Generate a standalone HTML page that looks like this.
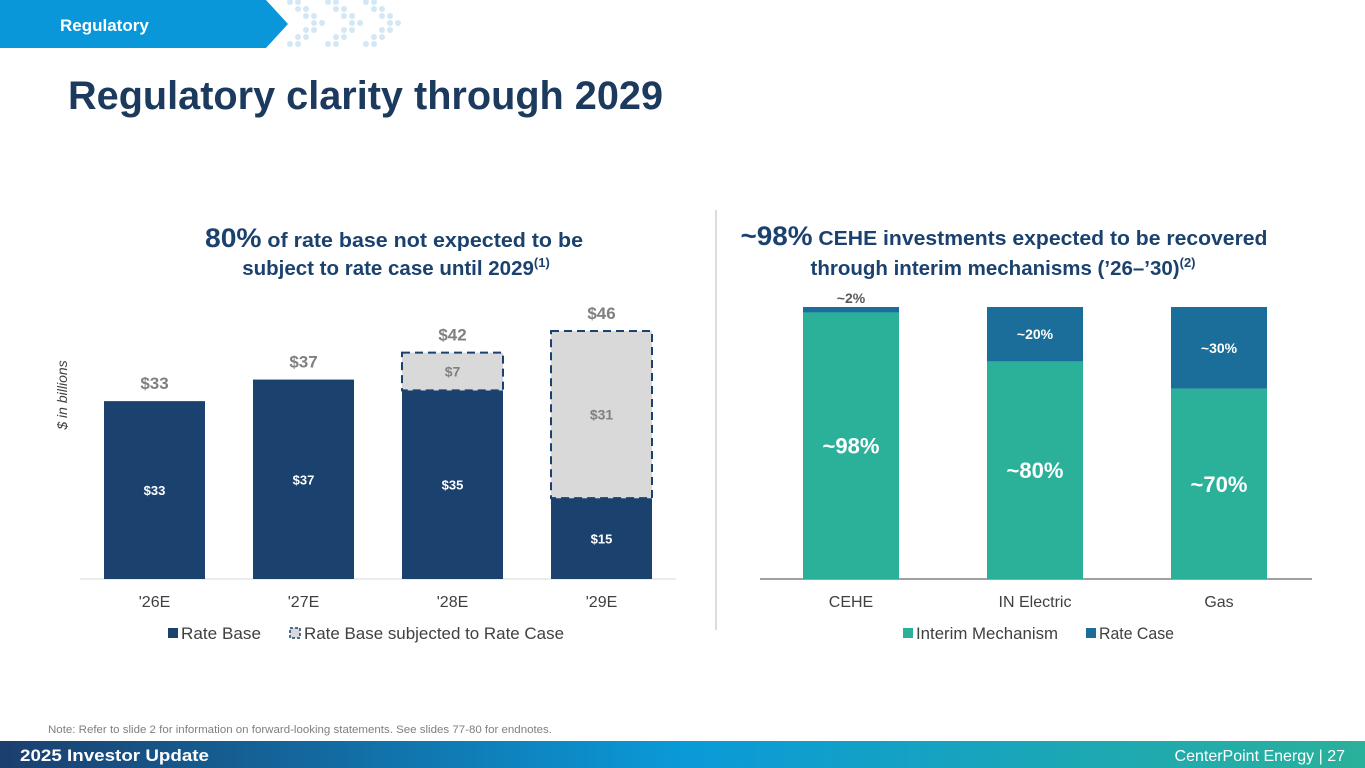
<!DOCTYPE html>
<html><head><meta charset="utf-8"><style>
html,body{margin:0;padding:0;background:#fff;width:1365px;height:768px;overflow:hidden}
svg{display:block;font-family:"Liberation Sans",Arial,sans-serif}
</style></head><body>
<svg id="s" width="1365" height="768" viewBox="0 0 1365 768">
<defs>
<linearGradient id="fg" x1="0" x2="1" y1="0" y2="0">
<stop offset="0" stop-color="#1b3f6e"/><stop offset="0.5" stop-color="#0a9ad8"/><stop offset="1" stop-color="#2ab19b"/>
</linearGradient>
</defs>
<polygon points="0,0 266,0 288,24 266,48 0,48" fill="#0a97d9"/>
<text x="60" y="31" font-size="17" font-weight="bold" fill="#fff">Regulatory</text>
<g id="dots"></g>
<text x="68" y="109" font-size="40" font-weight="bold" fill="#1b3a5e" textLength="595" lengthAdjust="spacingAndGlyphs">Regulatory clarity through 2029</text>

<text x="394" y="247" text-anchor="middle" font-weight="bold" fill="#1b426f" textLength="378" lengthAdjust="spacingAndGlyphs"><tspan font-size="27">80%</tspan><tspan font-size="20.5"> of rate base not expected to be</tspan></text>
<text x="396" y="275" text-anchor="middle" font-weight="bold" fill="#1b426f" font-size="20.5">subject to rate case until 2029<tspan font-size="13" dy="-8">(1)</tspan></text>

<text x="1004" y="245" text-anchor="middle" font-weight="bold" fill="#1b426f" textLength="527" lengthAdjust="spacingAndGlyphs"><tspan font-size="27">~98%</tspan><tspan font-size="20.5"> CEHE investments expected to be recovered</tspan></text>
<text x="1003" y="275" text-anchor="middle" font-weight="bold" fill="#1b426f" font-size="20.5">through interim mechanisms (’26–’30)<tspan font-size="13" dy="-8">(2)</tspan></text>

<line x1="716" y1="210" x2="716" y2="630" stroke="#d0d0d0" stroke-width="1.5"/>
<text transform="translate(67,395) rotate(-90)" text-anchor="middle" font-size="14" font-style="italic" fill="#404040">$ in billions</text>

<g id="left"></g>
<g id="right"></g>

<rect x="168" y="628" width="10" height="10" fill="#1b426f"/>
<text x="181" y="639" font-size="16.5" fill="#404040" textLength="80" lengthAdjust="spacingAndGlyphs">Rate Base</text>
<rect x="290" y="628" width="10" height="10" fill="#d9d9d9" stroke="#1b426f" stroke-width="1.5" stroke-dasharray="3,2"/>
<text x="304" y="639" font-size="16.5" fill="#404040" textLength="260" lengthAdjust="spacingAndGlyphs">Rate Base subjected to Rate Case</text>

<rect x="903" y="628" width="10" height="10" fill="#2bb09a"/>
<text x="916" y="639" font-size="16.5" fill="#404040" textLength="142" lengthAdjust="spacingAndGlyphs">Interim Mechanism</text>
<rect x="1086" y="628" width="10" height="10" fill="#1a6e99"/>
<text x="1099" y="639" font-size="16.5" fill="#404040" textLength="75" lengthAdjust="spacingAndGlyphs">Rate Case</text>

<text x="48" y="733" font-size="11" fill="#7f7f7f" textLength="504" lengthAdjust="spacingAndGlyphs">Note: Refer to slide 2 for information on forward-looking statements.  See slides 77-80 for endnotes.</text>
<rect x="0" y="741" width="1365" height="27" fill="url(#fg)"/>
<text x="20" y="761" font-size="17" font-weight="bold" fill="#fff" textLength="189" lengthAdjust="spacingAndGlyphs">2025 Investor Update</text>
<text x="1345" y="761" font-size="16" fill="#fff" text-anchor="end">CenterPoint Energy | 27</text>
</svg>
<script>
const years=["'26E","'27E","'28E","'29E"];
const rateBase=[33,37,35,15];
const rateCaseSubject=[0,0,7,31];
const totals=[33,37,42,46];
const segments=["CEHE","IN Electric","Gas"];
const interim=[98,80,70];
const rateCase=[2,20,30];
const interimLabels=["~98%","~80%","~70%"];
const rateCaseLabels=["~2%","~20%","~30%"];

const NS="http://www.w3.org/2000/svg";
function mk(p,t,a,txt){const e=document.createElementNS(NS,t);for(const k in a)e.setAttribute(k,a[k]);if(txt!==undefined)e.textContent=txt;p.appendChild(e);return e;}

// dots (chevrons)
const dg=document.getElementById('dots');
for(let c=0;c<3;c++)for(let r=0;r<7;r++){
  const off=(3-Math.abs(r-3))*8;
  for(let j=0;j<2;j++){
    const d=mk(dg,'circle',{cx:290+c*38+off+j*8,cy:2+r*7,r:3,fill:'#d3e8f4'});
    
    
  }
}

// left chart
const L=document.getElementById('left');
const base=579, k=5.39, x0=104, step=149, bw=101;
const yL=v=>base-v*k;
mk(L,'line',{x1:80,y1:base,x2:676,y2:base,stroke:'#d9d9d9','stroke-width':1});
years.forEach((y,i)=>{
  const x=x0+i*step, cx=x+bw/2;
  const r=mk(L,'rect',{x:x,y:yL(rateBase[i]),width:bw,height:rateBase[i]*k,fill:'#1b426f'});
  
  
  if(rateCaseSubject[i]>0){
    const top=yL(rateBase[i]+rateCaseSubject[i]);
    const g=mk(L,'rect',{x:x,y:top,width:bw,height:rateCaseSubject[i]*k,fill:'#d9d9d9'});
    
    
    const d=mk(L,'rect',{x:x,y:top,width:bw,height:rateCaseSubject[i]*k,fill:'none',stroke:'#1b426f','stroke-width':2,'stroke-dasharray':'8,5'});
    
    
    const t=mk(L,'text',{x:cx,y:top+rateCaseSubject[i]*k/2+5,'text-anchor':'middle','font-size':14,'font-weight':'bold',fill:'#808080'},'$'+rateCaseSubject[i]);
    
    
  }
  const lv=mk(L,'text',{x:cx,y:yL(rateBase[i])+(rateBase[i]*k)/2+5,'text-anchor':'middle','font-size':13,'font-weight':'bold',fill:'#fff'},'$'+rateBase[i]);
  
  
  const tt=mk(L,'text',{x:cx,y:yL(totals[i])-12,'text-anchor':'middle','font-size':17,'font-weight':'bold',fill:'#808080'},'$'+totals[i]);
  
  
  const xl=mk(L,'text',{x:cx,y:607,'text-anchor':'middle','font-size':16,fill:'#404040'},y);
  
  
});

// right chart
const R=document.getElementById('right');
const rk=272/100, rx0=803, rstep=184, rbw=96;
const yR=v=>base-v*rk;
mk(R,'line',{x1:760,y1:base,x2:1312,y2:base,stroke:'#404040','stroke-width':1});
segments.forEach((s,i)=>{
  const x=rx0+i*rstep, cx=x+rbw/2;
  const a=mk(R,'rect',{x:x,y:yR(interim[i]),width:rbw,height:interim[i]*rk,fill:'#2bb09a'});
  
  
  const b=mk(R,'rect',{x:x,y:yR(interim[i]+rateCase[i]),width:rbw,height:rateCase[i]*rk,fill:'#1a6e99'});
  
  
  const ti=mk(R,'text',{x:cx,y:yR(interim[i]/2)+8,'text-anchor':'middle','font-size':22,'font-weight':'bold',fill:'#fff'},interimLabels[i]);
  
  
  const big=rateCase[i]>10;
  const ty=big?yR(interim[i]+rateCase[i]/2)+5:yR(100)-4;
  const tr=mk(R,'text',{x:cx,y:ty,'text-anchor':'middle','font-size':14,'font-weight':'bold',fill:big?'#fff':'#595959'},rateCaseLabels[i]);
  
  
  const xl=mk(R,'text',{x:cx,y:607,'text-anchor':'middle','font-size':16,fill:'#404040'},s);
  
  
});
</script>
</body></html>
